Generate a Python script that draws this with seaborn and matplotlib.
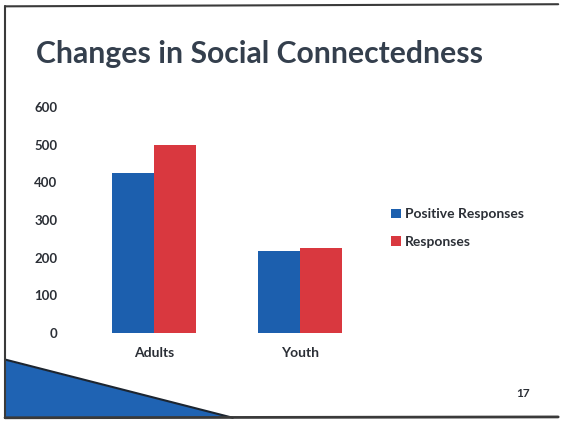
import matplotlib
matplotlib.use('Agg')
import matplotlib.pyplot as plt
import seaborn as sns
import pandas as pd
from matplotlib.patches import Polygon
from matplotlib.lines import Line2D

sns.set_style('white')
plt.rcParams['font.family'] = ['Lato', 'DejaVu Sans']

# данные
groups = ['Adults', 'Youth']
positive = [424, 218]
responses = [500, 227]
series = ['Positive Responses', 'Responses']
colors = ['#1c5fae', '#d9383f']

df = pd.DataFrame({
    'group': groups * 2,
    'value': positive + responses,
    'series': [series[0]] * 2 + [series[1]] * 2,
})

fig = plt.figure(figsize=(5.61, 4.22), dpi=100)
ax = fig.add_axes([0.1444, 0.2109, 0.5205, 0.5355])

sns.barplot(data=df, x='group', y='value', hue='series', palette=colors,
            width=0.575, saturation=1, linewidth=0, ax=ax)

ax.set_ylim(0, 600)
ax.set_yticks(range(0, 601, 100))
ax.set_xlabel('')
ax.set_ylabel('')
sns.despine(ax=ax, left=True, bottom=True)
ax.tick_params(axis='y', length=0, pad=17, labelsize=9.5, labelcolor='#2b2f36')
ax.tick_params(axis='x', length=0, pad=10, labelsize=10, labelcolor='#2b2f36')
for t in ax.get_yticklabels() + ax.get_xticklabels():
    t.set_fontweight('bold')

leg = ax.legend(loc='center left', bbox_to_anchor=(1.02, 0.465), frameon=False,
                handlelength=0.7, handleheight=0.7, handletextpad=0.3,
                labelspacing=1.1, prop={'size': 10, 'weight': 'bold'})
for t in leg.get_texts():
    t.set_color('#2b2f36')

# заголовок слайда
fig.text(0.064, 0.872, 'Changes in Social Connectedness', fontsize=21.7,
         color='#343f4d', fontweight='bold', va='center', ha='left')

# номер слайда
fig.text(0.945, 0.068, '17', fontsize=8.5, fontweight='bold', color='#2b2f36',
         ha='right', va='center')

# рамка слайда и синий клин внизу
fig.add_artist(Polygon([[0.009, 0.148], [0.009, 0.01], [0.415, 0.01]],
                       closed=True, transform=fig.transFigure,
                       facecolor='#1f63b3', edgecolor='none'))
fig.add_artist(Line2D([0.009, 0.415], [0.148, 0.01], transform=fig.transFigure,
                      color='#1c2530', lw=1.5))
fig.add_artist(Line2D([0.009, 0.995], [0.985, 0.99], transform=fig.transFigure,
                      color='#3a3a3a', lw=1.5))
fig.add_artist(Line2D([0.009, 0.009], [0.01, 0.985], transform=fig.transFigure,
                      color='#3a3a3a', lw=1.5))
fig.add_artist(Line2D([0.009, 0.995], [0.01, 0.012], transform=fig.transFigure,
                      color='#3a3a3a', lw=2))

fig.savefig('out.png', dpi=100)
plt.close()
